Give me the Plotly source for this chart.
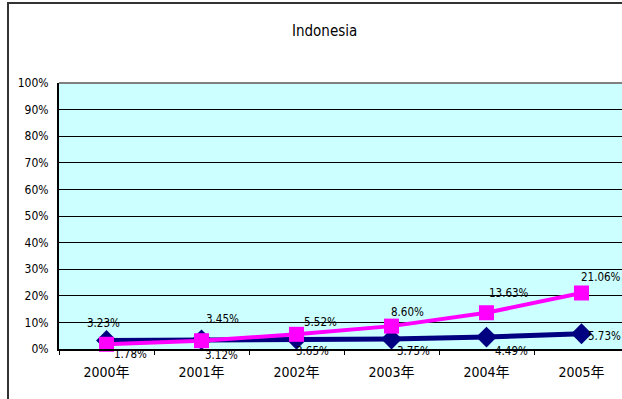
import plotly.graph_objects as go

# Data
years = ["2000年", "2001年", "2002年", "2003年", "2004年", "2005年"]
navy_vals = [3.23, 3.45, 3.65, 3.75, 4.49, 5.73]
pink_vals = [1.78, 3.12, 5.52, 8.60, 13.63, 21.06]
y_ticks = [0, 10, 20, 30, 40, 50, 60, 70, 80, 90, 100]
y_tick_text = [f"{v}%" for v in y_ticks]

# label offsets in pixels (xshift, yshift) for each point
navy_offsets = [(-3, 17), (21, 21), (16, -12), (22, -12), (25, -14), (23, -2)]
pink_offsets = [(24, -10), (20, -14), (24, 12), (16, 14), (22, 20), (19, 16)]

FONT = "DejaVu Sans Condensed, Liberation Sans Narrow, Noto Sans CJK SC, sans-serif"
NAVY = "#000080"
PINK = "#FF00FF"

W, H = 622, 399
L, R, T, B = 59, 0, 83, 50
pw, ph = W - L - R, H - T - B

fig = go.Figure()
fig.add_trace(go.Scatter(
    x=years, y=navy_vals, mode="lines+markers",
    line=dict(color=NAVY, width=5),
    marker=dict(symbol="diamond", size=16, color=NAVY),
    showlegend=False, hoverinfo="skip", cliponaxis=False,
))
fig.add_trace(go.Scatter(
    x=years, y=pink_vals, mode="lines+markers",
    line=dict(color=PINK, width=4),
    marker=dict(symbol="square", size=15, color=PINK),
    showlegend=False, hoverinfo="skip", cliponaxis=False,
))

annotations = []
for vals, offs in ((navy_vals, navy_offsets), (pink_vals, pink_offsets)):
    for yr, v, (dx, dy) in zip(years, vals, offs):
        annotations.append(dict(
            x=yr, y=v, xref="x", yref="y", text=f"{v:.2f}%",
            showarrow=False, xshift=dx, yshift=dy,
            font=dict(family=FONT, size=11.5, color="#000000"),
        ))

# chart title, placed in paper coordinates
annotations.append(dict(
    x=(324 - L) / pw, y=(H - B - 31) / ph, xref="paper", yref="paper",
    xanchor="center", yanchor="middle",
    text="Indonesia", showarrow=False,
    font=dict(family=FONT, size=15, color="#000000"),
))

shapes = [
    # outer chart frame
    dict(type="rect", xref="paper", yref="paper",
         x0=(8 - L) / pw, x1=1.05, y0=-0.3, y1=(H - B - 3) / ph,
         line=dict(color="#333333", width=2), fillcolor="rgba(0,0,0,0)", layer="above"),
    # grey top border of plot area
    dict(type="line", xref="paper", yref="paper", x0=0, x1=1, y0=1, y1=1,
         line=dict(color="#808080", width=2), layer="above"),
]

fig.update_layout(
    width=W, height=H,
    margin=dict(l=L, r=R, t=T, b=B, pad=0),
    paper_bgcolor="#FFFFFF",
    plot_bgcolor="#CCFFFF",
    font=dict(family=FONT, size=12, color="#000000"),
    annotations=annotations,
    shapes=shapes,
    xaxis=dict(
        type="category", range=[-0.5, 5.5 - 7 / 95],
        showgrid=False, showline=True, linecolor="#000000", linewidth=2,
        ticks="outside", tickson="boundaries", ticklen=4, tickcolor="#000000",
        tickfont=dict(family=FONT, size=14), ticklabelstandoff=9,
        zeroline=False, fixedrange=True,
    ),
    yaxis=dict(
        range=[0, 100], tickvals=y_ticks, ticktext=y_tick_text,
        showgrid=True, gridcolor="#000000", gridwidth=1,
        showline=True, linecolor="#000000", linewidth=2,
        ticks="", tickfont=dict(family=FONT, size=12), ticklabelstandoff=6,
        zeroline=False, fixedrange=True,
    ),
)

fig.write_html("out.html")
